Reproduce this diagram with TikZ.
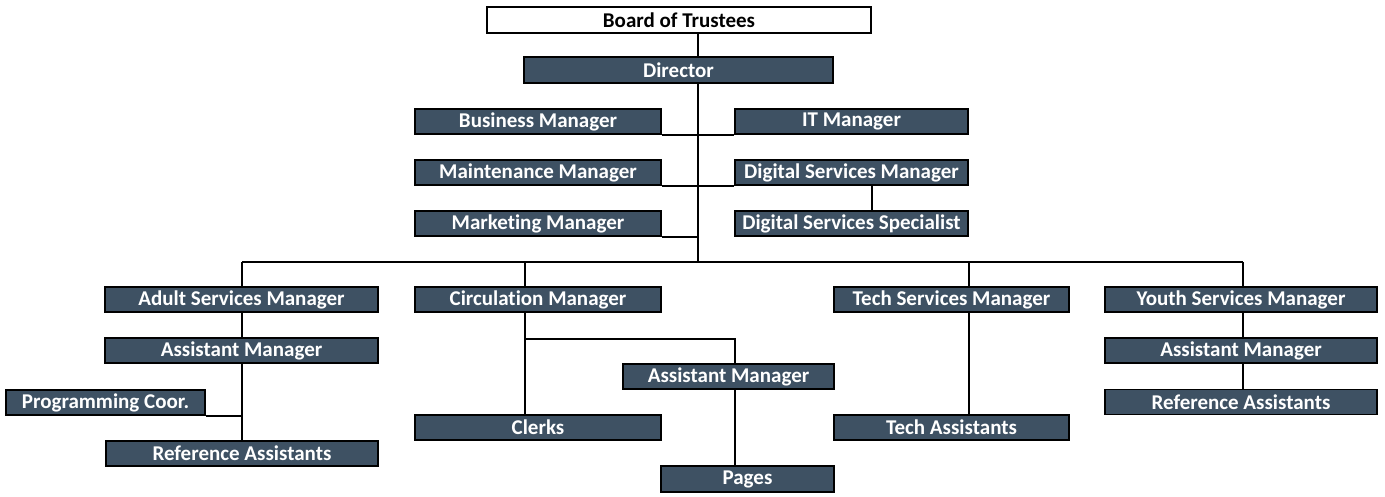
\documentclass[tikz,border=0pt]{standalone}
\usepackage{fontspec}
\setmainfont{Carlito}[Ligatures=NoCommon]
\usetikzlibrary{backgrounds}
\definecolor{boxfill}{HTML}{3E5163}
\tikzset{
  orgbox/.style={draw=black, line width=1.6pt, fill=boxfill, text=white,
    font=\fontsize{21}{24}\selectfont\bfseries, inner sep=0pt, minimum height=25pt},
  topbox/.style={orgbox, fill=white, text=black},
  link/.style={draw=black, line width=1.5pt}
}
\begin{document}
\begin{tikzpicture}[x=1pt,y=-1pt]
\path[use as bounding box] (0,0) rectangle (1385,497);
\node[topbox, minimum width=384pt, minimum height=26pt] (board) at (679,20) {Board of Trustees};
\node[orgbox, minimum width=309pt, minimum height=26pt] (dir) at (678.5,70) {Director};
\node[orgbox, minimum width=246pt] (bm) at (538,121.5) {Business Manager};
\node[orgbox, minimum width=233pt] (it) at (851.5,121.5) {IT Manager};
\node[orgbox, minimum width=246pt] (mm) at (538,172.5) {Maintenance Manager};
\node[orgbox, minimum width=233pt] (dsm) at (851.5,172.5) {Digital Services Manager};
\node[orgbox, minimum width=246pt] (mk) at (538,223.5) {Marketing Manager};
\node[orgbox, minimum width=233pt] (dss) at (851.5,223.5) {Digital Services Specialist};
\node[orgbox, minimum width=273pt] (asm) at (241.5,299.5) {Adult Services Manager};
\node[orgbox, minimum width=246pt] (cm) at (538,299.5) {Circulation Manager};
\node[orgbox, minimum width=235pt] (tsm) at (951.5,299.5) {Tech Services Manager};
\node[orgbox, minimum width=272pt] (ysm) at (1241,299.5) {Youth Services Manager};
\node[orgbox, minimum width=273pt] (aam) at (241.5,350.5) {Assistant Manager};
\node[orgbox, minimum width=199pt] (pc) at (105.5,402.5) {Programming Coor.};
\node[orgbox, minimum width=272pt] (ara) at (242,453.5) {Reference Assistants};
\node[orgbox, minimum width=211pt] (cam) at (728.5,376.5) {Assistant Manager};
\node[orgbox, minimum width=246pt] (clerks) at (538,427.5) {Clerks};
\node[orgbox, minimum width=173pt, minimum height=26pt] (pages) at (747.5,479) {Pages};
\node[orgbox, minimum width=235pt] (ta) at (951.5,427.5) {Tech Assistants};
\node[orgbox, minimum width=272pt] (yam) at (1241,350.5) {Assistant Manager};
\node[orgbox, minimum width=272pt] (yra) at (1241,402) {Reference Assistants};
\coordinate (bus) at (698,262);
\coordinate (busL) at (242,262);
\coordinate (busR) at (1243,262);
\coordinate (dropC) at (525,262);
\coordinate (dropT) at (969,262);
\coordinate (circJ) at (525,339);
\coordinate (circX) at (735,339);
\coordinate (dsx) at (872,0);
\begin{scope}[on background layer]
\draw[link] (board.south -| bus) -- (bus);
\draw[link] (bm.south east) -- (it.south west);
\draw[link] (mm.south east) -- (dsm.south west);
\draw[link] (mk.south east) -- (mk.south east -| bus);
\draw[link] (dsm.south -| dsx) -- (dss.north -| dsx);
\draw[link] (busL) -- (busR);
\draw[link] (busL) -- (ara.north -| busL);
\draw[link] (pc.south east) -- (pc.south east -| busL);
\draw[link] (dropC) -- (clerks.north -| dropC);
\draw[link] (circJ) -- (circX) -- (pages.north -| circX);
\draw[link] (dropT) -- (ta.north -| dropT);
\draw[link] (busR) -- (yra.north -| busR);
\end{scope}
\end{tikzpicture}
\end{document}
